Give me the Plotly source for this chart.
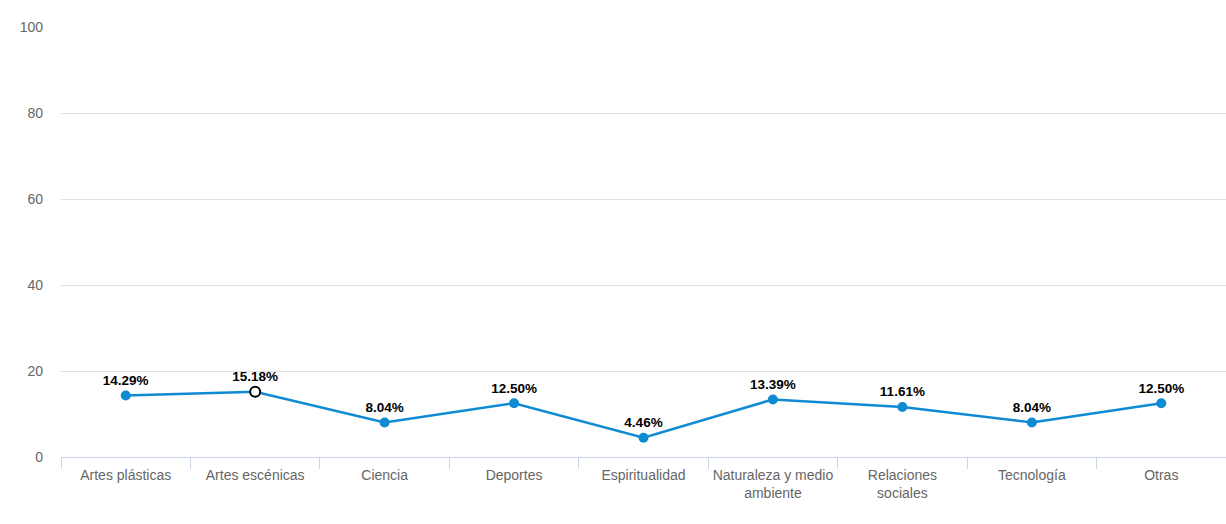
import plotly.graph_objects as go

categories = ["Artes plásticas", "Artes escénicas", "Ciencia", "Deportes", "Espiritualidad",
              "Naturaleza y medio<br>ambiente", "Relaciones<br>sociales", "Tecnología", "Otras"]
values = [14.29, 15.18, 8.04, 12.50, 4.46, 13.39, 11.61, 8.04, 12.50]
labels = [f"{v:.2f}%" for v in values]
y_ticks = [0, 20, 40, 60, 80, 100]

line_color = "#0f8bd3"
fill_colors = [line_color] * len(values)
outline_colors = [line_color] * len(values)
outline_widths = [0] * len(values)
fill_colors[1] = "white"
outline_colors[1] = "black"
outline_widths[1] = 2

fig = go.Figure(go.Scatter(
    x=categories, y=values, mode="lines+markers+text",
    text=labels, textposition="top center",
    textfont=dict(family="Liberation Sans, Arial", size=13.5, color="black", weight="bold"),
    line=dict(color=line_color, width=2.5),
    marker=dict(size=10, color=fill_colors, line=dict(color=outline_colors, width=outline_widths)),
    cliponaxis=False, hoverinfo="skip",
))

fig.update_layout(
    width=1226, height=524,
    margin=dict(l=61, r=0, t=27, b=67),
    paper_bgcolor="white", plot_bgcolor="white",
    showlegend=False,
    font=dict(family="Liberation Sans, Arial", size=14, color="#666666"),
)
fig.update_xaxes(
    type="category", tickson="boundaries", ticks="outside", ticklen=11, tickcolor="#ccd6eb",
    showline=True, linecolor="#ccd6eb", linewidth=1, showgrid=False,
    tickfont=dict(size=14, color="#666666"), ticklabelstandoff=5, tickangle=0,
    automargin=False, range=[-0.5, len(categories) - 0.5],
)
fig.update_yaxes(
    range=[0, 100], tickvals=y_ticks, showgrid=True, gridcolor="#e0e0e0", gridwidth=1,
    zeroline=False, showline=False, ticks="", ticklabelstandoff=17, automargin=False,
    tickfont=dict(size=14, color="#666666"),
)
fig.write_html("out.html")
